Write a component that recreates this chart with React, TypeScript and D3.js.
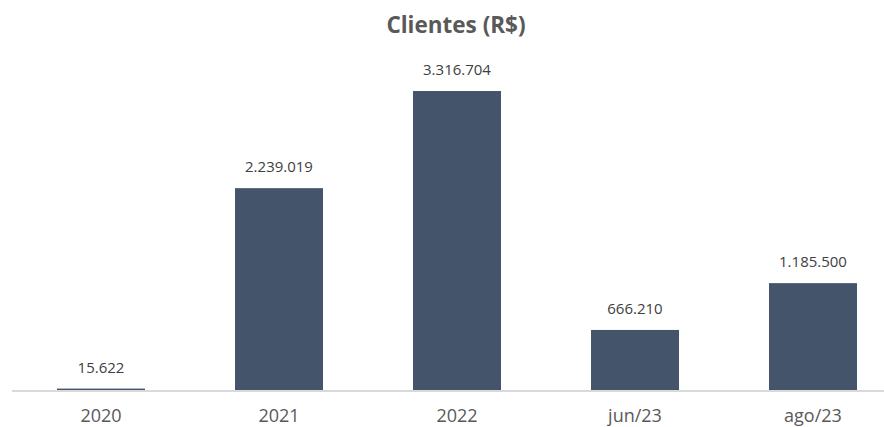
import React, { useEffect, useRef } from "react";
import * as d3 from "d3";

const categories = ["2020", "2021", "2022", "jun/23", "ago/23"];
const values = [15622, 2239019, 3316704, 666210, 1185500];
const valueLabels = ["15.622", "2.239.019", "3.316.704", "666.210", "1.185.500"];

const W = 884;
const H = 427;

export default function App() {
  const svgRef = useRef<SVGSVGElement>(null);

  useEffect(() => {
    const svg = d3.select(svgRef.current);
    svg.selectAll("*").remove();

    const x = d3.scaleBand().domain(categories).range([12, 902]).paddingInner(0.5056).paddingOuter(0.2528);
    const y = d3.scaleLinear().domain([0, 3500000]).range([390, 74.5]);

    svg.append("rect").attr("width", W).attr("height", H).attr("fill", "#fff");

    // title
    svg.append("text")
      .attr("x", 456)
      .attr("y", 33)
      .attr("text-anchor", "middle")
      .attr("font-family", "'Open Sans', sans-serif")
      .attr("font-weight", "bold")
      .attr("font-size", 22.5)
      .attr("fill", "#595959")
      .text("Clientes (R$)");

    // bars
    svg.append("g").selectAll("rect")
      .data(values)
      .join("rect")
      .attr("x", (d, i) => x(categories[i])!)
      .attr("y", d => y(d))
      .attr("width", x.bandwidth())
      .attr("height", d => 390 - y(d))
      .attr("fill", "#44546a");

    // value labels
    svg.append("g").selectAll("text")
      .data(values)
      .join("text")
      .attr("x", (d, i) => x(categories[i])! + x.bandwidth() / 2)
      .attr("y", d => y(d) - 16)
      .attr("text-anchor", "middle")
      .attr("font-family", "'Open Sans', sans-serif")
      .attr("font-size", 15)
      .attr("fill", "#404040")
      .text((d, i) => valueLabels[i]);

    // baseline
    svg.append("line")
      .attr("x1", 12).attr("x2", W)
      .attr("y1", 391).attr("y2", 391)
      .attr("stroke", "#d9d9d9")
      .attr("stroke-width", 2);

    // category labels
    svg.append("g").selectAll("text")
      .data(categories)
      .join("text")
      .attr("x", d => x(d)! + x.bandwidth() / 2)
      .attr("y", 422)
      .attr("text-anchor", "middle")
      .attr("font-family", "'Open Sans', sans-serif")
      .attr("font-size", 18)
      .attr("fill", "#595959")
      .text(d => d);
  }, []);

  return (
    <svg
      ref={svgRef}
      width={W}
      height={H}
      style={{ position: "absolute", left: 0, top: 0, display: "block" }}
    />
  );
}
